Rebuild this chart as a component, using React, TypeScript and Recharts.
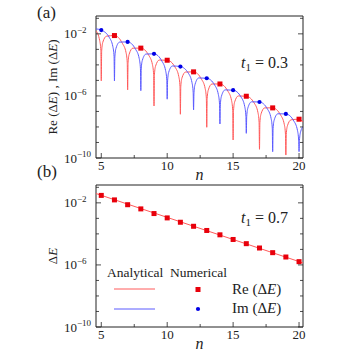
import React from "react";
import {
  ComposedChart,
  Line,
  Scatter,
  XAxis,
  YAxis,
  ReferenceArea,
  Label,
} from "recharts";

// values are log10 of the energy: [n, exponent]
const reAnalytic: [number, number][] = [
  [4.6, -1.8], [4.88, -2.44], [4.97, -3.08], [5, -5.03], [5.03, -3.1], [5.12, -2.53], [5.4, -2.15], [6, -2.11],
  [6.6, -2.61], [6.88, -3.21], [6.97, -3.85], [7, -5.61], [7.03, -3.87], [7.12, -3.3], [7.4, -2.92], [8, -2.92],
  [8.6, -3.38], [8.88, -3.98], [8.97, -4.62], [9, -6.65], [9.03, -4.64], [9.12, -4.07], [9.4, -3.69], [10, -3.7],
  [10.6, -4.15], [10.88, -4.75], [10.97, -5.39], [11, -7.18], [11.03, -5.41], [11.12, -4.84], [11.4, -4.46], [12, -4.45],
  [12.6, -4.92], [12.88, -5.52], [12.97, -6.16], [13, -8.02], [13.03, -6.18], [13.12, -5.61], [13.4, -5.23], [14, -5.23],
  [14.6, -5.69], [14.88, -6.29], [14.97, -6.93], [15, -8.84], [15.03, -6.95], [15.12, -6.38], [15.4, -6.0], [16, -6.02],
  [16.6, -6.46], [16.88, -7.06], [16.97, -7.7], [17, -9.44], [17.03, -7.72], [17.12, -7.15], [17.4, -6.77], [18, -6.77],
  [18.6, -7.23], [18.88, -7.83], [18.97, -8.47], [19, -9.81], [19.03, -8.49], [19.12, -7.92], [19.4, -7.54], [20, -7.5],
  [20.3, -7.68],
];

const imAnalytic: [number, number][] = [
  [4.6, -1.68], [5, -1.76], [5.6, -2.22], [5.88, -2.83], [5.97, -3.46], [6, -5.03], [6.03, -3.49], [6.12, -2.92], [6.4, -2.53], [7, -2.52],
  [7.6, -2.99], [7.88, -3.6], [7.97, -4.23], [8, -5.66], [8.03, -4.26], [8.12, -3.69], [8.4, -3.3], [9, -3.29],
  [9.6, -3.76], [9.88, -4.37], [9.97, -5.0], [10, -6.21], [10.03, -5.03], [10.12, -4.46], [10.4, -4.07], [11, -4.11],
  [11.6, -4.53], [11.88, -5.14], [11.97, -5.77], [12, -6.9], [12.03, -5.8], [12.12, -5.23], [12.4, -4.84], [13, -4.86],
  [13.6, -5.3], [13.88, -5.91], [13.97, -6.54], [14, -7.81], [14.03, -6.57], [14.12, -6.0], [14.4, -5.61], [15, -5.63],
  [15.6, -6.07], [15.88, -6.68], [15.97, -7.31], [16, -8.41], [16.03, -7.34], [16.12, -6.77], [16.4, -6.38], [17, -6.39],
  [17.6, -6.84], [17.88, -7.45], [17.97, -8.08], [18, -9.59], [18.03, -8.11], [18.12, -7.54], [18.4, -7.15], [19, -7.16],
  [19.6, -7.61], [19.88, -8.22], [19.97, -8.85], [20, -9.59], [20.03, -8.88], [20.12, -8.31], [20.3, -7.99],
];

const reNumerical: [number, number][] = [
  [6, -2.11], [8, -2.92], [10, -3.7], [12, -4.45], [14, -5.23], [16, -6.02], [18, -6.77], [20, -7.5],
];
const imNumerical: [number, number][] = [
  [5, -1.76], [7, -2.52], [9, -3.29], [11, -4.11], [13, -4.86], [15, -5.63], [17, -6.39], [19, -7.16],
];

// panel (b)
const nB = [5, 6, 7, 8, 9, 10, 11, 12, 13, 14, 15, 16, 17, 18, 19, 20];
const deltaNumerical = [-1.52, -1.81, -2.12, -2.39, -2.69, -2.97, -3.25, -3.51, -3.78, -4.06, -4.36, -4.63, -4.91, -5.21, -5.49, -5.79];
const deltaAnalytic: [number, number][] = [[4.6, -1.4], [20.3, -5.87]];

const nDomain: [number, number] = [4.6, 20.3];
const yDomain: [number, number] = [1e-10, 10 ** -0.85];
const xTicks = [5, 7.5, 10, 12.5, 15, 17.5, 20];
const xLabelTicks = [5, 10, 15, 20];
const yTicks = [-10, -9, -8, -7, -6, -5, -4, -3, -2, -1].map((e) => 10 ** e);
const yLabelExps = [-10, -6, -2];

const RED_LINE = "#ff5a5a";
const BLUE_LINE = "#5a5aff";
const RED_MARK = "#e8000b";
const BLUE_MARK = "#0000e6";
const INK = "#222";
const SERIF = "'Liberation Serif', 'Times New Roman', 'DejaVu Serif', serif";
const font = { fontFamily: SERIF };

const PLOT_L = 96;
const PLOT_R = 303;

const toPts = (pairs: [number, number][]) => pairs.map(([n, e]) => ({ n, v: 10 ** e }));

const YTick = (props: any) => {
  const { y, payload } = props;
  const e = Math.round(Math.log10(payload.value));
  const major = yLabelExps.includes(e);
  const len = major ? 5 : 3;
  return (
    <g>
      <line x1={PLOT_L} x2={PLOT_L + len} y1={y} y2={y} stroke={INK} strokeWidth={0.8} />
      <line x1={PLOT_R - len} x2={PLOT_R} y1={y} y2={y} stroke={INK} strokeWidth={0.8} />
      {major && (
        <text x={64} y={y + 4.5} fontSize={13} fill={INK} style={font}>
          10
          <tspan dy={-5.5} fontSize={9}>
            {"\u2212" + -e}
          </tspan>
        </text>
      )}
    </g>
  );
};

const makeXTick = (bottom: number) => (props: any) => {
  const { x, payload } = props;
  const major = xLabelTicks.includes(payload.value);
  const len = major ? 5 : 3;
  return (
    <g>
      <line x1={x} x2={x} y1={bottom} y2={bottom - len} stroke={INK} strokeWidth={0.8} />
      {major && (
        <text x={x} y={bottom + 12} textAnchor="middle" fontSize={13} fill={INK} style={font}>
          {payload.value}
        </text>
      )}
    </g>
  );
};

const nLabel = ({ viewBox }: any) => (
  <text
    x={viewBox.x + viewBox.width / 2}
    y={viewBox.y + 22}
    textAnchor="middle"
    fontSize={16}
    fontStyle="italic"
    fill={INK}
    style={font}
  >
    n
  </text>
);

const yLabel = (kind: "a" | "b") => ({ viewBox }: any) => {
  const cy = viewBox.y + viewBox.height / 2;
  return (
    <text
      transform={`translate(52, ${cy}) rotate(-90)`}
      textAnchor="middle"
      dominantBaseline="central"
      fontSize={13}
      fill={INK}
      style={font}
    >
      {kind === "a" ? (
        <>
          Re (Δ<tspan fontStyle="italic">E</tspan>) , Im (Δ<tspan fontStyle="italic">E</tspan>)
        </>
      ) : (
        <>
          Δ<tspan fontStyle="italic">E</tspan>
        </>
      )}
    </text>
  );
};

const squareShape = (p: any) => <rect x={p.cx - 2.5} y={p.cy - 2.5} width={5} height={5} fill={RED_MARK} />;
const dotShape = (p: any) => <circle cx={p.cx} cy={p.cy} r={2.1} fill={BLUE_MARK} />;

function Panel({
  height,
  top,
  axisHeight,
  kind,
  children,
}: {
  height: number;
  top: number;
  axisHeight: number;
  kind: "a" | "b";
  children: React.ReactNode;
}) {
  const bottom = height - axisHeight;
  return (
    <ComposedChart
      width={357}
      height={height}
      margin={{ top, right: 357 - PLOT_R, bottom: 0, left: 0 }}
    >
      <XAxis
        dataKey="n"
        type="number"
        domain={nDomain}
        allowDataOverflow
        ticks={xTicks}
        interval={0}
        tick={makeXTick(bottom)}
        tickLine={false}
        axisLine={false}
        height={axisHeight}
      >
        <Label content={nLabel} />
      </XAxis>
      <YAxis
        dataKey="v"
        type="number"
        scale="log"
        domain={yDomain}
        allowDataOverflow
        ticks={yTicks}
        interval={0}
        tick={YTick}
        tickLine={false}
        axisLine={false}
        width={PLOT_L}
      >
        <Label content={yLabel(kind)} />
      </YAxis>
      {children}
      <ReferenceArea
        x1={nDomain[0]}
        x2={nDomain[1]}
        y1={yDomain[0]}
        y2={yDomain[1]}
        fill="none"
        stroke={INK}
        strokeWidth={1}
        ifOverflow="visible"
      />
    </ComposedChart>
  );
}

export default function App() {
  const deltaPts = nB.map((n, i) => ({ n, v: 10 ** deltaNumerical[i] }));
  return (
    <div style={{ position: "absolute", left: 0, top: 0, width: 357, height: 357, background: "#fff", fontFamily: SERIF }}>
      <div style={{ position: "absolute", left: 0, top: 0 }}>
        <Panel height={182} top={16} axisHeight={24} kind="a">
          <Line data={toPts(reAnalytic)} dataKey="v" type="monotone" stroke={RED_LINE} strokeWidth={1} dot={false} activeDot={false} isAnimationActive={false} />
          <Line data={toPts(imAnalytic)} dataKey="v" type="monotone" stroke={BLUE_LINE} strokeWidth={1} dot={false} activeDot={false} isAnimationActive={false} />
          <Scatter data={toPts(reNumerical)} dataKey="v" shape={squareShape} isAnimationActive={false} />
          <Scatter data={toPts(imNumerical)} dataKey="v" shape={dotShape} isAnimationActive={false} />
        </Panel>
      </div>
      <div style={{ position: "absolute", left: 0, top: 182 }}>
        <Panel height={175} top={3} axisHeight={30} kind="b">
          <Line data={toPts(deltaAnalytic)} dataKey="v" type="linear" stroke={RED_LINE} strokeWidth={1} dot={false} activeDot={false} isAnimationActive={false} />
          <Scatter data={deltaPts} dataKey="v" shape={squareShape} isAnimationActive={false} />
        </Panel>
      </div>
      <svg width={357} height={357} style={{ position: "absolute", left: 0, top: 0, pointerEvents: "none", fontFamily: SERIF }}>
        <text x={37} y={18} fontSize={17} fill={INK} style={font}>(a)</text>
        <text x={37} y={177} fontSize={17} fill={INK} style={font}>(b)</text>
        <text x={241} y={68} fontSize={16} fill={INK} style={font}>
          <tspan fontStyle="italic">t</tspan>
          <tspan fontSize={11} dy={3}>1</tspan>
          <tspan dy={-3}> = 0.3</tspan>
        </text>
        <text x={241} y={223} fontSize={16} fill={INK} style={font}>
          <tspan fontStyle="italic">t</tspan>
          <tspan fontSize={11} dy={3}>1</tspan>
          <tspan dy={-3}> = 0.7</tspan>
        </text>
        <text x={107} y={277} fontSize={13.5} fill={INK} style={font}>Analytical</text>
        <text x={170} y={277} fontSize={13.5} fill={INK} style={font}>Numerical</text>
        <line x1={114} x2={155} y1={289} y2={289} stroke={RED_LINE} strokeWidth={1} />
        <rect x={195.5} y={287} width={5} height={5} fill={RED_MARK} />
        <text x={232} y={294} fontSize={15} fill={INK} style={font}>
          Re (Δ<tspan fontStyle="italic">E</tspan>)
        </text>
        <line x1={114} x2={155} y1={309} y2={309} stroke={BLUE_LINE} strokeWidth={1} />
        <circle cx={198} cy={309} r={2.1} fill={BLUE_MARK} />
        <text x={232} y={313} fontSize={15} fill={INK} style={font}>
          Im (Δ<tspan fontStyle="italic">E</tspan>)
        </text>
      </svg>
    </div>
  );
}
